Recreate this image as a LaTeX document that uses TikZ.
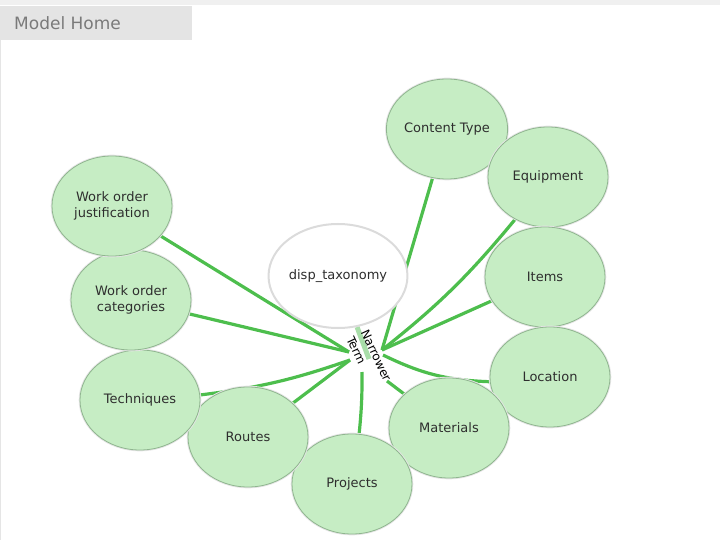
\documentclass[tikz,border=0pt]{standalone}
\usepackage{fontspec}
\setmainfont{DejaVu Sans}
\usetikzlibrary{shapes.geometric,backgrounds}
\definecolor{nfill}{HTML}{C6EDC4}
\definecolor{nborder}{HTML}{8FB58F}
\definecolor{edgec}{HTML}{4DBE4D}
\definecolor{lightedge}{HTML}{A9DEA9}
\definecolor{txt}{HTML}{2E2E2E}
\definecolor{hdr}{HTML}{E4E4E4}
\definecolor{hdrtxt}{HTML}{7A7A7A}
\begin{document}
\begin{tikzpicture}[x=1pt,y=-1pt,
  term/.style={ellipse, fill=nfill, draw=nborder, line width=0.8pt,
    preaction={draw=black!10, line width=2.6pt},
    minimum width=120pt, minimum height=100pt, inner sep=0pt,
    align=center, font=\fontsize{13}{16}\selectfont, text=txt},
  root/.style={ellipse, fill=white, draw=black!14, line width=2pt,
    minimum width=121pt, minimum height=104pt, inner sep=0pt,
    font=\fontsize{13}{16}\selectfont, text=txt},
  link/.style={draw=edgec, line width=3.2pt},
  rootlink/.style={draw=lightedge, line width=5pt}]
\useasboundingbox (0,0) rectangle (720,540);
% header
\fill[black!6] (0,0) rectangle (720,5);
\fill[hdr] (0,6) rectangle (192,40);
\node[anchor=west, inner sep=0pt, text=hdrtxt, font=\fontsize{17}{19}\selectfont] (hd) at (14,23) {Model Home};
\draw[black!10, line width=1pt] (0.5,40) -- (0.5,540);
% nodes
\node[root] (dt) at (338,276) {disp\_taxonomy};
\node[term] (ct) at (447,129) {Content Type};
\node[term] (eq) at (548,177) {Equipment};
\node[term] (it) at (545,277) {Items};
\node[term] (lo) at (550,377) {Location};
\node[term] (ma) at (449,428) {Materials};
\node[term] (pr) at (352,484) {Projects};
\node[term] (ro) at (248,437) {Routes};
\node[term] (te) at (140,400) {Techniques};
\node[term] (wc) at (131,300) {Work order\\categories};
\node[term] (wj) at (112,206) {Work order\\justification};
\node[rotate=-65, align=left, inner sep=0pt, font=\fontsize{12}{16}\selectfont] (nt) at (369,359) {Narrower\\Term};
% hub points
\coordinate (hl) at (349,352);
\coordinate (hl2) at (350,360);
\coordinate (hr) at (382,350);
\coordinate (hr2) at (383,355);
\coordinate (hm) at (387,381);
\coordinate (hp) at (362,372);
\begin{scope}[on background layer]
\draw[rootlink] (dt) -- (nt.center);
\draw[link] (wj) -- (hl);
\draw[link] (wc) -- (hl);
\draw[link] (te) to[bend right=6] (hl2);
\draw[link] (ro) -- (hl2);
\draw[link] (pr) to[bend right=3] (hp);
\draw[link] (ma) -- (hm);
\draw[link] (lo) to[bend left=12] (hr2);
\draw[link] (it) -- (hr);
\draw[link] (eq) to[bend left=6] (hr);
\draw[link] (ct) -- (hr);
\end{scope}
\end{tikzpicture}
\end{document}
